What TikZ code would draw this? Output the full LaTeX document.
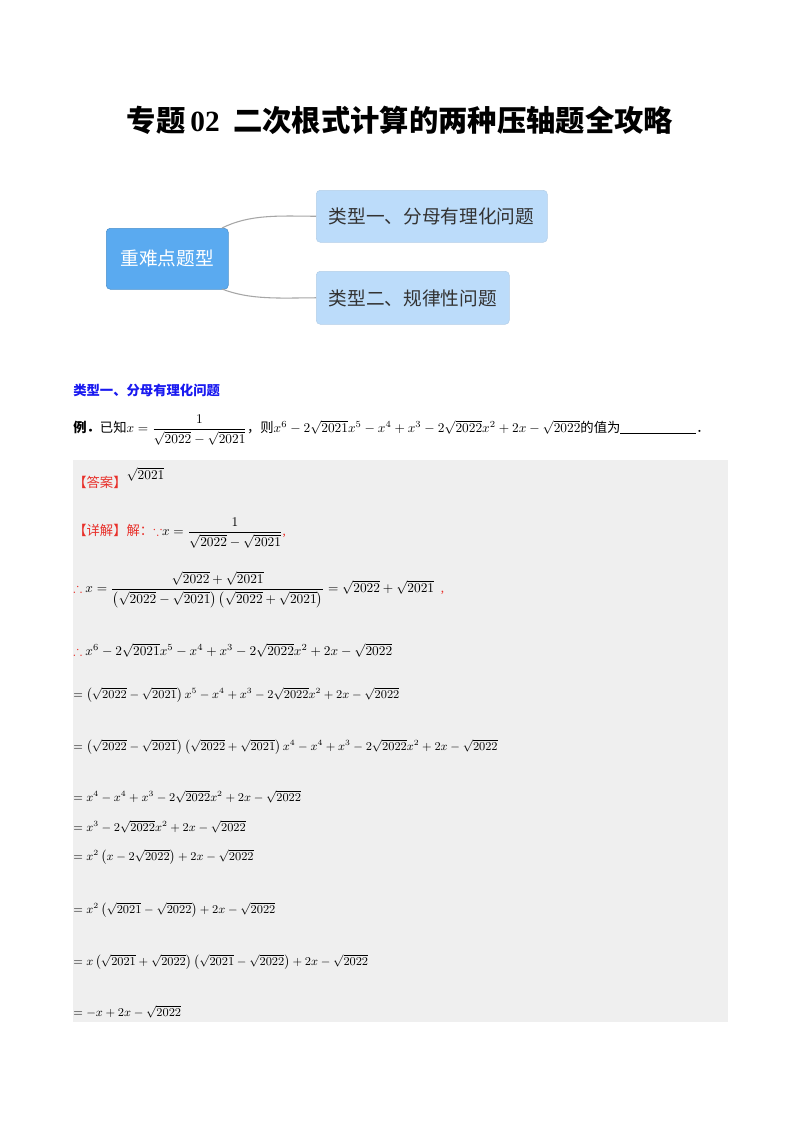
\documentclass[tikz,border=0pt]{standalone}
\usepackage{amsmath,amssymb}
\usepackage{fontspec}
\setmainfont{Liberation Serif}
\newfontfamily\cjk{Noto Sans CJK SC}
\definecolor{boxgray}{HTML}{EFEFEF}
\definecolor{mainblue}{HTML}{5AAAF0}
\definecolor{lightblue}{HTML}{BCDCFA}
\definecolor{hblue}{HTML}{1A1AF0}
\definecolor{ansred}{HTML}{E8302A}
\tikzset{
  mline/.style={anchor=west,inner sep=0pt,font=\fontsize{10}{12}\selectfont},
  child/.style={rounded corners=3pt,fill=lightblue,draw=lightblue!85!gray,anchor=north west,inner sep=0pt,font=\cjk\fontsize{14}{16}\selectfont,text=black!80},
  conn/.style={draw=gray!70,line width=0.8pt}
}
\newcommand{\sq}[1]{\sqrt{#1}}
\begin{document}
\begin{tikzpicture}[x=0.75pt,y=-0.75pt]
\useasboundingbox (0,0) rectangle (800,1132);
\fill[white] (0,0) rectangle (800,1132);
\node[font=\cjk\bfseries\fontsize{22}{24}\selectfont] (title) at (400,120) {专题\,\textrm{\textbf{02}}\ \ 二次根式计算的两种压轴题全攻略};
% mind map
\node[child,minimum width=231*0.75pt,minimum height=52*0.75pt] (c1) at (316,190) {};
\node[font=\cjk\fontsize{14}{16}\selectfont,text=black!80,anchor=west] (c1t) at (324,216) {类型一、分母有理化问题};
\node[child,minimum width=193*0.75pt,minimum height=53*0.75pt] (c2) at (316,271) {};
\node[font=\cjk\fontsize{14}{16}\selectfont,text=black!80,anchor=west] (c2t) at (324,298) {类型二、规律性问题};
\node[rounded corners=3pt,fill=mainblue,draw=mainblue!85!black,minimum width=122*0.75pt,minimum height=61*0.75pt,anchor=north west,inner sep=0pt] (m) at (106,228) {};
\node[font=\cjk\fontsize{14}{16}\selectfont,text=white] (mt) at (167,258) {重难点题型};
\coordinate (m1) at (222,228);
\coordinate (m2) at (222,289);
\draw[conn] (m1) .. controls (250,214) and (280,216) .. (c1.west);
\draw[conn] (m2) .. controls (250,300) and (280,298) .. (c2.west);
% section
\node[anchor=west,inner sep=0pt,text=hblue,font=\cjk\bfseries\fontsize{10}{12}\selectfont] (sec) at (73,390) {类型一、分母有理化问题};
\node[mline] (ex) at (73,430) {{\cjk\bfseries 例．}{\cjk 已知}$x=\dfrac{1}{\sq{2022}-\sq{2021}}${\cjk ，则}$x^6-2\sq{2021}x^5-x^4+x^3-2\sq{2022}x^2+2x-\sq{2022}${\cjk 的值为}\rule[-1pt]{57pt}{0.8pt}{\cjk ．}};
\fill[boxgray] (73,460) rectangle (728,1022);
\node[mline] (ans) at (73,478) {\textcolor{ansred}{\cjk 【答案】}\raisebox{6pt}{$\sq{2021}$}};
\node[mline] (sol) at (73,533) {\textcolor{ansred}{\cjk 【详解】解：$\because$}$x=\dfrac{1}{\sq{2022}-\sq{2021}}$\textcolor{ansred}{,}};
\node[mline] (l1) at (73,590) {\textcolor{ansred}{$\therefore$}\ $x=\dfrac{\sq{2022}+\sq{2021}}{\left(\sq{2022}-\sq{2021}\right)\left(\sq{2022}+\sq{2021}\right)}=\sq{2022}+\sq{2021}$\ \ \textcolor{ansred}{,}};
\node[mline] (l2) at (73,650) {\textcolor{ansred}{$\therefore$}\ $x^6-2\sq{2021}x^5-x^4+x^3-2\sq{2022}x^2+2x-\sq{2022}$};
\node[mline,font=\fontsize{9}{11}\selectfont] (l3) at (73,695) {$=\left(\sq{2022}-\sq{2021}\right)x^5-x^4+x^3-2\sq{2022}x^2+2x-\sq{2022}$};
\node[mline,font=\fontsize{9}{11}\selectfont] (l4) at (73,747) {$=\left(\sq{2022}-\sq{2021}\right)\left(\sq{2022}+\sq{2021}\right)x^4-x^4+x^3-2\sq{2022}x^2+2x-\sq{2022}$};
\node[mline,font=\fontsize{9}{11}\selectfont] (l5) at (73,797) {$=x^4-x^4+x^3-2\sq{2022}x^2+2x-\sq{2022}$};
\node[mline,font=\fontsize{9}{11}\selectfont] (l6) at (73,827) {$=x^3-2\sq{2022}x^2+2x-\sq{2022}$};
\node[mline,font=\fontsize{9}{11}\selectfont] (l7) at (73,857) {$=x^2\left(x-2\sq{2022}\right)+2x-\sq{2022}$};
\node[mline,font=\fontsize{9}{11}\selectfont] (l8) at (73,910) {$=x^2\left(\sq{2021}-\sq{2022}\right)+2x-\sq{2022}$};
\node[mline,font=\fontsize{9}{11}\selectfont] (l9) at (73,962) {$=x\left(\sq{2021}+\sq{2022}\right)\left(\sq{2021}-\sq{2022}\right)+2x-\sq{2022}$};
\node[mline,font=\fontsize{9}{11}\selectfont] (l10) at (73,1012) {$=-x+2x-\sq{2022}$};
\end{tikzpicture}
\end{document}
